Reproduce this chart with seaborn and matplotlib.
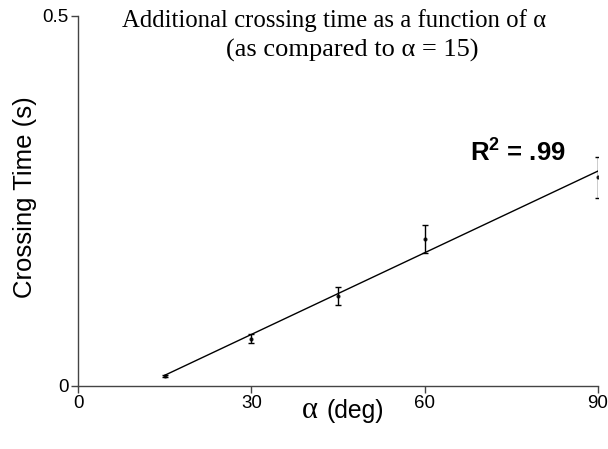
import matplotlib
matplotlib.use("Agg")
import matplotlib.pyplot as plt
import seaborn as sns
import numpy as np
import pandas as pd

# ---- data ----
alpha = [15, 30, 45, 60, 90]
crossing_time = [0.0135, 0.064, 0.1216, 0.1986, 0.2818]
err = [0.0015, 0.006, 0.012, 0.019, 0.0277]
xticks = [0, 30, 60, 90]
yticks = [0, 0.5]
ytick_labels = ["0", "0.5"]
r2_text = ".99"
title_line1 = "Additional crossing time as a function of \u03b1"
title_line2 = "(as compared to \u03b1 = 15)"

sns.set_theme(style="white")
plt.rcParams['font.family'] = ['Liberation Sans', 'DejaVu Sans']
plt.rcParams['mathtext.fontset'] = 'custom'
plt.rcParams['mathtext.rm'] = 'Liberation Sans:bold'
plt.rcParams['mathtext.bf'] = 'Liberation Sans:bold'

df = pd.DataFrame({"alpha": alpha, "time": crossing_time, "err": err})

fig = plt.figure(figsize=(6.08, 4.49), dpi=100)
ax = fig.add_axes([78/608, 1-386/449, 520/608, 370/449])

ax.errorbar(df["alpha"], df["time"], yerr=df["err"], fmt="none",
            ecolor="black", elinewidth=1.0, capsize=2.5, capthick=1.0, zorder=3)
sns.regplot(data=df, x="alpha", y="time", ci=None, ax=ax,
            scatter_kws=dict(s=4, color="black", zorder=4),
            line_kws=dict(color="black", lw=1.0), truncate=True)

ax.set_xlim(0, 90)
ax.set_ylim(0, 0.5)
ax.set_xticks(xticks)
ax.set_xticklabels([str(t) for t in xticks])
ax.set_yticks(yticks)
ax.set_yticklabels(ytick_labels)
for s in ["top", "right"]:
    ax.spines[s].set_visible(False)
for s in ["left", "bottom"]:
    ax.spines[s].set_color("#444444")
    ax.spines[s].set_linewidth(1.0)
ax.tick_params(axis="both", direction="out", length=5, width=1.0,
               color="#444444", labelsize=13.5, labelcolor="black",
               bottom=True, left=True, pad=1.5)

ax.set_xlabel("")
ax.set_ylabel("")
fig.text(25/608, 1-197/449, "Crossing Time (s)", rotation=90,
         ha="center", va="center", fontsize=18.5, color="black")
fig.text(302/608, 1-411/449, "\u03b1", ha="left", va="center",
         fontsize=22, color="black",
         family=['Liberation Serif', 'DejaVu Serif'])
fig.text(327/608, 1-411/449, "(deg)", ha="left", va="center",
         fontsize=17.8, color="black")

serif = ['Liberation Serif', 'DejaVu Serif']
fig.text(334/608, 1-21/449, title_line1, ha="center", va="center",
         fontsize=17.8, family=serif, color="black")
fig.text(352/608, 1-50/449, title_line2, ha="center", va="center",
         fontsize=19, family=serif, color="black")

ax.text(67.8, 0.303, r"$\mathbf{R^2}$ = " + r2_text, fontsize=18.5,
        fontweight="bold", ha="left", va="baseline", color="black")

fig.savefig("out.png", dpi=100)
